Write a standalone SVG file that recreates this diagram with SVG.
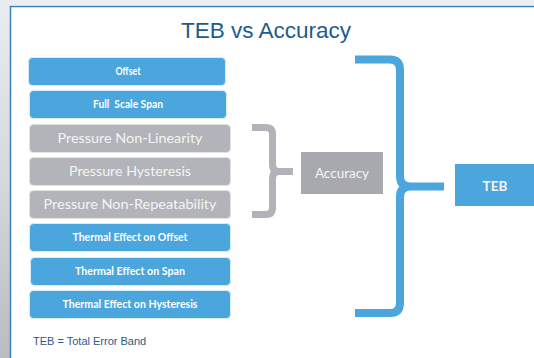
<svg xmlns="http://www.w3.org/2000/svg" width="534" height="358" viewBox="0 0 534 358">
  <defs>
    <linearGradient id="sideShade" x1="0" y1="0" x2="0" y2="1">
      <stop offset="0" stop-color="#e9ecf0"/>
      <stop offset="0.5" stop-color="#d5d9de"/>
      <stop offset="1" stop-color="#b9bcc0"/>
    </linearGradient>
  </defs>
  <style>
    .blue { fill: #4aa6dc; stroke: #d9ecf7; stroke-width: 1; }
    .grey { fill: #b2b4b9; stroke: #e2e3e5; stroke-width: 1; }
    .lbl-s { font-family: Lato, "Open Sans", sans-serif; font-weight: bold; font-size: 10.5px; fill: #ffffff; text-anchor: middle; }
    .lbl-g { font-family: Lato, "Open Sans", sans-serif; font-size: 13.5px; fill: #f4f4f4; text-anchor: middle; }
    .brace-g { fill: none; stroke: #b1b3b8; stroke-width: 7; }
    .brace-b { fill: none; stroke: #4aa6dc; stroke-width: 8; }
  </style>

  <!-- slide background and frame -->
  <rect x="0" y="0" width="534" height="358" fill="#ffffff"/>
  <rect x="0" y="0" width="534" height="5" fill="#eceef1"/>
  <rect x="0" y="0" width="10" height="358" fill="url(#sideShade)"/>
  <path d="M10.5 358 V6.5 H534" fill="none" stroke="#3a82b4" stroke-width="1.5"/>

  <text x="266" y="38" font-family="'Liberation Sans', Arial, sans-serif" font-size="22.5" fill="#1d5c8c" text-anchor="middle">TEB vs Accuracy</text>

  <!-- error sources -->
  <g id="offset">
    <rect class="blue" x="28.5" y="57.5" width="197" height="28" rx="4"/>
    <text class="lbl-s" x="128" y="75" textLength="25" lengthAdjust="spacingAndGlyphs">Offset</text>
  </g>
  <g id="full-scale-span">
    <rect class="blue" x="29.5" y="90.5" width="197" height="28" rx="4"/>
    <text class="lbl-s" x="128" y="108" textLength="70" lengthAdjust="spacingAndGlyphs" xml:space="preserve">Full  Scale Span</text>
  </g>
  <g id="pressure-non-linearity">
    <rect class="grey" x="29.5" y="124.5" width="201" height="28" rx="4"/>
    <text class="lbl-g" x="130" y="143" textLength="145" lengthAdjust="spacingAndGlyphs">Pressure Non-Linearity</text>
  </g>
  <g id="pressure-hysteresis">
    <rect class="grey" x="29.5" y="157.5" width="201" height="28" rx="4"/>
    <text class="lbl-g" x="130" y="176" textLength="122" lengthAdjust="spacingAndGlyphs">Pressure Hysteresis</text>
  </g>
  <g id="pressure-non-repeatability">
    <rect class="grey" x="29.5" y="190.5" width="201" height="28" rx="4"/>
    <text class="lbl-g" x="130" y="209" textLength="173" lengthAdjust="spacingAndGlyphs">Pressure Non-Repeatability</text>
  </g>
  <g id="thermal-offset">
    <rect class="blue" x="29.5" y="223.5" width="201" height="28" rx="4"/>
    <text class="lbl-s" x="130" y="241" textLength="115" lengthAdjust="spacingAndGlyphs">Thermal Effect on Offset</text>
  </g>
  <g id="thermal-span">
    <rect class="blue" x="30.5" y="257.5" width="200" height="28" rx="4"/>
    <text class="lbl-s" x="130" y="275" textLength="110" lengthAdjust="spacingAndGlyphs">Thermal Effect on Span</text>
  </g>
  <g id="thermal-hysteresis">
    <rect class="blue" x="29.5" y="290.5" width="201" height="28" rx="4"/>
    <text class="lbl-s" x="130" y="308" textLength="135" lengthAdjust="spacingAndGlyphs">Thermal Effect on Hysteresis</text>
  </g>

  <!-- grouping braces -->
  <g id="connectors">
    <path class="brace-g" d="M252 127.5 H266 Q272.5 127.5 272.5 134 V164 Q272.5 171.5 279 171.5 H293 M279 171.5 Q272.5 171.5 272.5 179 V208 Q272.5 214.5 266 214.5 H252"/>
    <path class="brace-b" d="M355 59.5 H390 Q400 59.5 400 70 V176 Q400 186.5 410 186.5 H444 M410 186.5 Q400 186.5 400 197 V303 Q400 313 390 313 H355"/>
  </g>

  <g id="accuracy">
    <rect x="301" y="152" width="82" height="42" fill="#a7a9ae"/>
    <text class="lbl-g" x="342" y="178" font-size="14">Accuracy</text>
  </g>
  <g id="teb">
    <rect x="455" y="164" width="79" height="42" fill="#4aa6dc"/>
    <text class="lbl-g" x="495" y="190.5" font-size="14" font-weight="bold" fill="#ffffff">TEB</text>
  </g>

  <text x="33" y="345" font-family="'Liberation Sans', Arial, sans-serif" font-size="11" fill="#2a5a86">TEB = Total Error Band</text>
</svg>
